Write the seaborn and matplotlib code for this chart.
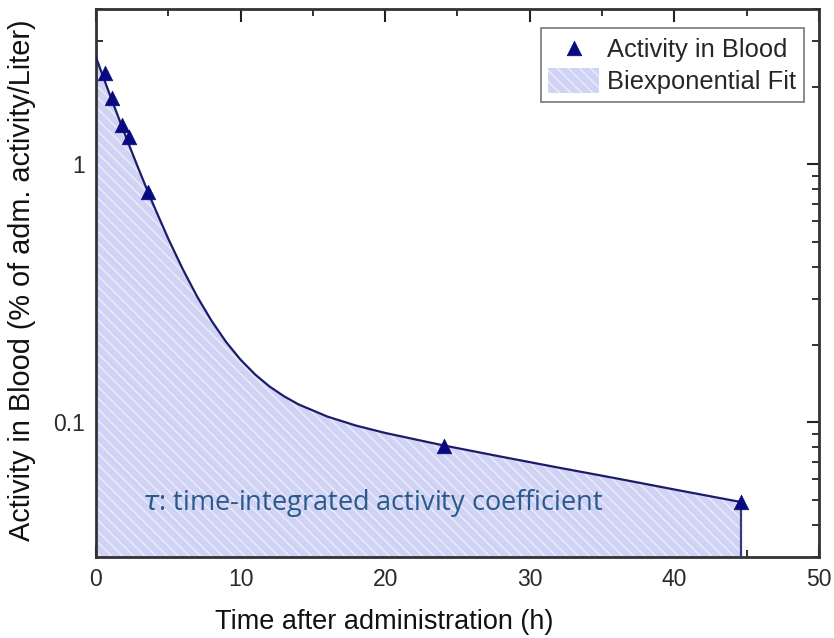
import numpy as np
import pandas as pd
import matplotlib
matplotlib.use("Agg")
import matplotlib.pyplot as plt
import seaborn as sns
from matplotlib.ticker import LogLocator, NullFormatter, FixedLocator, FixedFormatter, MultipleLocator

# ---- data ----
meas_time = [0.6, 1.1, 1.8, 2.3, 3.6, 24.1, 44.6]
meas_activity = [2.25, 1.80, 1.42, 1.27, 0.78, 0.081, 0.049]

fit_time = [0, 0.5, 1, 1.5, 2, 2.5, 3, 3.5, 4, 5, 6, 7, 8, 9, 10, 11, 12, 13, 14,
            16, 18, 20, 24, 28, 32, 36, 40, 44.6]
fit_activity = [2.60, 2.18, 1.834, 1.547, 1.307, 1.108, 0.943, 0.805, 0.690, 0.514,
                0.392, 0.3065, 0.2467, 0.2045, 0.1746, 0.1531, 0.1375, 0.126, 0.1172,
                0.1051, 0.0969, 0.0908, 0.0813, 0.0735, 0.0666, 0.0605, 0.0548, 0.049]

x_ticks = [0, 10, 20, 30, 40, 50]
y_ticks = [0.1, 1]
y_tick_labels = ["0.1", "1"]

sns.set_style("ticks")
plt.rcParams['font.family'] = ['Liberation Sans', 'DejaVu Sans']
plt.rcParams['hatch.color'] = '#ecedfb'
plt.rcParams['hatch.linewidth'] = 1.0

fig = plt.figure(figsize=(8.34, 6.38), dpi=100)
ax = fig.add_axes([0.1151, 0.127, 0.8669, 0.8589])

ylo, yhi = 0.030, 4.0
ax.set_yscale('log')
ax.set_xlim(0, 50)
ax.set_ylim(ylo, yhi)

df_fit = pd.DataFrame({"t": fit_time, "a": fit_activity})
df_meas = pd.DataFrame({"t": meas_time, "a": meas_activity})

fill = ax.fill_between(df_fit["t"], ylo, df_fit["a"], facecolor='#d1d3f5',
                       edgecolor='#ecedfb', hatch='\\\\\\', linewidth=0, zorder=1,
                       label="Biexponential Fit")
sns.lineplot(data=df_fit, x="t", y="a", ax=ax, color='#1c1c6b', linewidth=1.6,
             zorder=3, legend=False)
ax.vlines(fit_time[-1], ylo, fit_activity[-1], color='#3a3a80', linewidth=1.6, zorder=3)
sns.scatterplot(data=df_meas, x="t", y="a", ax=ax, marker='^', s=110,
                color='#0a0a80', edgecolor='#0a0a80', linewidth=0.5, zorder=4,
                label="Activity in Blood", legend=False)

# ticks
ax.xaxis.set_major_locator(FixedLocator(x_ticks))
ax.xaxis.set_minor_locator(MultipleLocator(5))
ax.yaxis.set_major_locator(FixedLocator(y_ticks))
ax.yaxis.set_major_formatter(FixedFormatter(y_tick_labels))
ax.yaxis.set_minor_locator(LogLocator(base=10, subs=np.arange(2, 10)))
ax.yaxis.set_minor_formatter(NullFormatter())
ax.tick_params(which='both', direction='in', top=True, right=True, colors='#222222',
               labelcolor='#2a2a2a', labelsize=16.5)
ax.tick_params(which='major', length=9, width=1.5, pad=8)
ax.tick_params(which='minor', length=5, width=1.3)
for s in ax.spines.values():
    s.set_linewidth(2)
    s.set_color('#333333')

ax.set_xlabel("Time after administration (h)", fontsize=19.5, color='#111111')
ax.xaxis.set_label_coords(0.398, -0.095)
ax.set_ylabel("Activity in Blood (% of adm. activity/Liter)", fontsize=20.8,
              color='#111111')
ax.yaxis.set_label_coords(-0.083, 0.505)

ax.text(3.2, 0.0485, r"$\tau$: time-integrated activity coefficient", fontsize=19.5,
        color='#2a5a8c', family=['Open Sans', 'DejaVu Sans'], va='center', ha='left', zorder=5)

h_sc = ax.collections[-1]
leg = ax.legend(handles=[h_sc, fill], labels=["Activity in Blood", "Biexponential Fit"],
                loc='upper right', bbox_to_anchor=(0.979, 0.965), fontsize=18.4,
                frameon=True, fancybox=False, edgecolor='#777777', framealpha=1,
                handlelength=2.0, handleheight=1.1, handletextpad=0.3, borderpad=0.3,
                labelspacing=0.25, borderaxespad=0)
leg.get_frame().set_linewidth(1.2)

fig.savefig("out.png", dpi=100)
